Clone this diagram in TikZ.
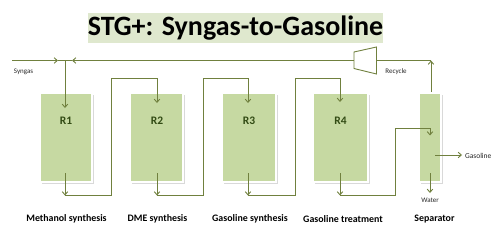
\documentclass[tikz,border=0pt]{standalone}
\usepackage{fontspec}
\setmainfont{Carlito}
\usetikzlibrary{arrows.meta}
\definecolor{lineC}{RGB}{112,128,62}
\definecolor{boxG}{RGB}{198,217,162}
\definecolor{titleG}{RGB}{223,232,206}
\definecolor{rtext}{RGB}{50,75,20}
\tikzset{
  conn/.style={draw=lineC, line width=0.9pt},
  arr/.style={conn, -{Straight Barb[length=3.2pt,width=5.5pt]}},
  reactor/.style={rectangle, fill=boxG, draw=white, line width=1.6pt, inner sep=0pt},
  rlabel/.style={font=\bfseries\fontsize{11.5}{12}\selectfont, text=rtext},
  blabel/.style={font=\bfseries\fontsize{9.9}{11}\selectfont, text=black},
  slabel/.style={font=\fontsize{7}{8}\selectfont, text=black!85}
}
\begin{document}
\begin{tikzpicture}[x=1pt,y=-1pt]
\useasboundingbox (0,0) rectangle (500,231);
% title
\node[fill=titleG, minimum width=295pt, minimum height=30pt, inner sep=0pt,
      font=\bfseries\fontsize{28}{30}\selectfont] (title) at (235.5,28) {STG+: Syngas-to-Gasoline};
% shadows
\foreach \cx/\w in {66/52,156.5/53,249/54,340.5/55,430/22}{
  \fill[black!15] (\cx-\w/2+1.5,94.5) rectangle (\cx+\w/2+1.5,183.5);
}
% reactors
\node[reactor, minimum width=52pt, minimum height=89pt] (R1) at (66,137.5) {};
\node[reactor, minimum width=53pt, minimum height=89pt] (R2) at (156.5,137.5) {};
\node[reactor, minimum width=54pt, minimum height=89pt] (R3) at (249,137.5) {};
\node[reactor, minimum width=55pt, minimum height=89pt] (R4) at (340.5,137.5) {};
\node[reactor, minimum width=22pt, minimum height=89pt] (S) at (430,137.5) {};
\node[rlabel] (l1) at (66,121) {R1};
\node[rlabel] (l2) at (157,121) {R2};
\node[rlabel] (l3) at (249,121) {R3};
\node[rlabel] (l4) at (340.5,121) {R4};
% compressor
\coordinate (cLt) at (354,52);
\coordinate (cLb) at (354,68.5);
\coordinate (cRt) at (376.5,47);
\coordinate (cRb) at (376.5,74);
\draw[conn, fill=white] (cLt) -- (cRt) -- (cRb) -- (cLb) -- cycle;
\coordinate (cL) at (354,60.5);
\coordinate (cR) at (376.5,60.5);
% syngas feed line
\coordinate (synL) at (12,60.5);
\coordinate (a1) at (58,60.5);
\coordinate (a2) at (72,60.5);
\coordinate (j) at (65,60.5);
\draw[arr] (synL) -- (a1);
\draw[conn] (a1) -- (a2);
\draw[arr] (cL) -- (a2);
\draw[arr] (j) -- (65,108);
\node[slabel] (syn) at (23.5,71.5) {Syngas};
% recycle
\coordinate (rc) at (431,60.5);
\draw[arr] (431,91.5) -- (rc);
\draw[conn] (rc) -- (cR);
\node[slabel] (rec) at (396,71.5) {Recycle};
% R1 -> R2
\draw[arr] (65,173) -- (65,195.5);
\draw[arr] (65,195.5) -| (111,78.5) -| (157,103);
% R2 -> R3
\draw[arr] (157,173) -- (157,195.5);
\draw[arr] (157,195.5) -| (203,78.5) -| (248,103);
% R3 -> R4
\draw[arr] (248,173) -- (248,195.5);
\draw[arr] (248,195.5) -| (295.5,78.5) -| (340,102);
% R4 -> separator
\draw[arr] (340,173) -- (340,195.5);
\draw[arr] (340,195.5) -| (395,128) -| (430,135.5);
% separator outputs
\draw[arr] (435,155) -- (462,155);
\node[slabel, anchor=west, font=\fontsize{7.5}{8}\selectfont] (gas) at (461.5,155.5) {Gasoline};
\draw[arr] (430,173) -- (430,193);
\node[slabel] (wat) at (430,200) {Water};
% bottom labels
\node[blabel] (b1) at (66.5,219) {Methanol synthesis};
\node[blabel] (b2) at (157.5,219) {DME synthesis};
\node[blabel] (b3) at (250,219) {Gasoline synthesis};
\node[blabel] (b4) at (343,219) {Gasoline treatment};
\node[blabel] (b5) at (434.5,219) {Separator};
\end{tikzpicture}
\end{document}
